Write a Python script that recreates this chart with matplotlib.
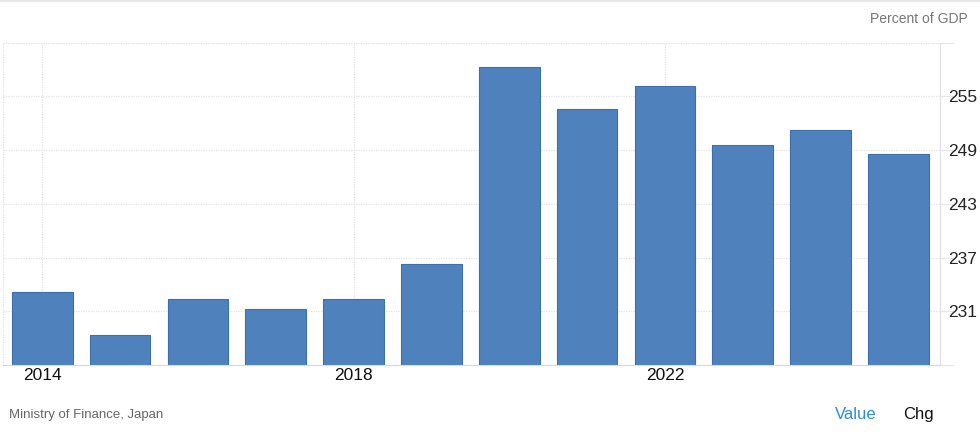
import numpy as np
import matplotlib
matplotlib.use('Agg')
import matplotlib.pyplot as plt

plt.rcParams['font.family'] = ['Liberation Sans', 'DejaVu Sans']

# Japan government debt, percent of GDP
years = [2014, 2015, 2016, 2017, 2018, 2019, 2020, 2021, 2022, 2023, 2024, 2025]
debt = [233.2, 228.3, 232.4, 231.3, 232.4, 236.3, 258.3, 253.6, 256.2, 249.6, 251.2, 248.6]
yticks = [231, 237, 243, 249, 255]
xticks = [2014, 2018, 2022]

fig = plt.figure(figsize=(9.8, 4.34), dpi=100)
ax = fig.add_axes([0.0034, 0.159, 0.9555, 0.7427])

ax.bar(years, debt, width=0.78, color='#4f81bd', edgecolor='#3a6fb0',
       linewidth=0.8, zorder=2)

ax.set_xlim(2013.5, 2025.53)
ax.set_ylim(225, 261)
ax.set_yticks([225] + yticks + [261])
ax.set_yticklabels([''] + [str(t) for t in yticks] + [''])
ax.set_xticks(xticks)
ax.set_xticklabels([str(t) for t in xticks])
ax.yaxis.tick_right()
ax.tick_params(axis='y', length=10, width=0.9, color='#e6e6e6', pad=-4,
               labelsize=12.5, labelcolor='#222222')
ax.tick_params(axis='x', length=0, pad=2, labelsize=12.5, labelcolor='#111111')

ax.grid(True, color='#e3e3e3', linestyle=(0, (1, 1)), linewidth=0.9, zorder=0)
ax.axvline(2013.5, color='#e3e3e3', linestyle=(0, (1, 1)), linewidth=0.9, zorder=0)

for s in ['top', 'left']:
    ax.spines[s].set_visible(False)
ax.spines['right'].set_color('#e0e0e0')
ax.spines['bottom'].set_color('#d8d8d8')

# thin border line along top of the figure
fig.add_artist(plt.Line2D([0, 1], [0.998, 0.998], color='#e6e6e6', linewidth=1.5))

fig.text(0.987, 0.956, 'Percent of GDP', ha='right', va='center',
         fontsize=10, color='#777777')
fig.text(0.009, 0.044, 'Ministry of Finance, Japan', ha='left', va='center',
         fontsize=9.5, color='#666666')
fig.text(0.852, 0.044, 'Value', ha='left', va='center', fontsize=12, color='#2a8ae6')
fig.text(0.922, 0.044, 'Chg', ha='left', va='center', fontsize=12, color='#111111')

fig.savefig('out.png', dpi=100)
